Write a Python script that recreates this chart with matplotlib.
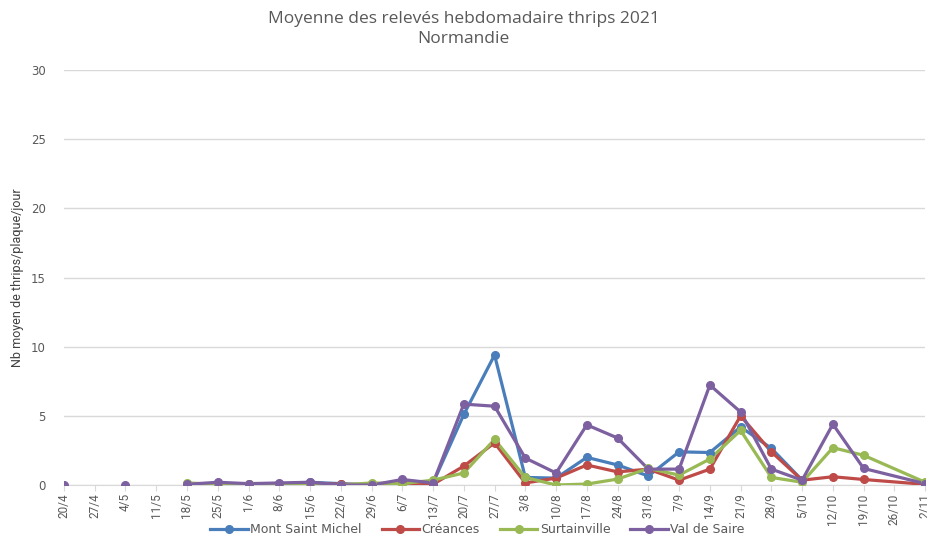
import numpy as np
import matplotlib
matplotlib.use("Agg")
import matplotlib.pyplot as plt
from matplotlib.lines import Line2D

categories = ["20/4", "27/4", "4/5", "11/5", "18/5", "25/5", "1/6", "8/6", "15/6", "22/6",
              "29/6", "6/7", "13/7", "20/7", "27/7", "3/8", "10/8", "17/8", "24/8", "31/8",
              "7/9", "14/9", "21/9", "28/9", "5/10", "12/10", "19/10", "26/10", "2/11"]

mont_saint_michel = [None, None, None, None, 0.05, 0.05, 0.0, 0.05, 0.2, 0.1,
                     0.0, 0.3, 0.15, 5.1, 9.4, 0.55, 0.5, 2.0, 1.45, 0.65,
                     2.4, 2.35, 4.2, 2.65, 0.35, None, None, None, None]
creances = [None, None, None, None, 0.05, 0.1, 0.05, 0.1, 0.15, 0.05,
            0.05, 0.15, 0.05, 1.37, 3.05, 0.15, 0.5, 1.45, 0.95, 1.15,
            0.35, 1.15, 5.0, 2.4, 0.35, 0.6, 0.4, None, 0.05]
surtainville = [None, None, None, None, 0.15, 0.05, 0.05, 0.05, 0.1, 0.0,
                0.15, 0.1, 0.35, 0.87, 3.3, 0.55, 0.0, 0.07, 0.43, 1.2,
                0.72, 1.88, 3.95, 0.55, 0.2, 2.7, 2.15, None, 0.2]
val_de_saire = [0.0, None, 0.0, None, 0.05, 0.2, 0.1, 0.15, 0.2, 0.0,
                0.0, 0.4, 0.15, 5.85, 5.7, 1.95, 0.87, 4.35, 3.4, 1.15,
                1.15, 7.23, 5.28, 1.15, 0.35, 4.4, 1.2, None, 0.1]

series = [
    ("Mont Saint Michel", mont_saint_michel, "#4A7EBB"),
    ("Créances", creances, "#BE4B48"),
    ("Surtainville", surtainville, "#98B954"),
    ("Val de Saire", val_de_saire, "#7D60A0"),
]

fig = plt.figure(figsize=(9.27, 5.36), dpi=100)
ax = fig.add_axes([0.069, 0.0951, 0.929, 0.774])

x = np.arange(len(categories))
connect_idx = categories.index("26/10")
for name, vals, col in series:
    y = np.array([np.nan if v is None else v for v in vals], dtype=float)
    # line: gap at 26/10 is bridged, other gaps break the line
    keep = [i for i in range(len(x)) if not (i == connect_idx and np.isnan(y[i]))]
    ax.plot(x[keep], y[keep], color=col, lw=2.3, solid_capstyle="round", zorder=3)
    ax.plot(x, y, linestyle="none", marker="o", ms=5.5, color=col, zorder=4)

ax.set_xlim(0, len(categories) - 1)
ax.set_ylim(0, 30)
ax.set_yticks(range(0, 31, 5))
ax.set_xticks(x)
ax.set_xticklabels(categories, rotation=90, fontsize=8.5, color="#595959",
                   family=["Liberation Sans Narrow", "Roboto", "DejaVu Sans"])
for t in ax.get_yticklabels():
    t.set_fontsize(8.5)
    t.set_color("#595959")
    t.set_family("DejaVu Sans")

ax.grid(axis="y", color="#D9D9D9", lw=1)
ax.set_axisbelow(True)
for s in ["top", "right", "left"]:
    ax.spines[s].set_visible(False)
ax.spines["bottom"].set_color("#D9D9D9")
ax.tick_params(axis="y", length=0, pad=13)
ax.tick_params(axis="x", length=4, color="#D9D9D9", pad=2)

ax.set_ylabel("Nb moyen de thrips/plaque/jour", fontsize=9, color="#404040",
              family=["Liberation Sans Narrow", "Roboto", "DejaVu Sans"])
ax.yaxis.set_label_coords(-0.046, 0.5)

fig.text(0.5, 0.965, "Moyenne des relevés hebdomadaire thrips 2021", ha="center", va="center",
         fontsize=12.5, color="#595959", family="Open Sans")
fig.text(0.5, 0.928, "Normandie", ha="center", va="center",
         fontsize=12.5, color="#595959", family="Open Sans")

handles = [Line2D([0], [0], color=c, lw=2.3, marker="o", ms=5.5) for _, _, c in series]
fig.legend(handles, [n for n, _, _ in series], loc="center", bbox_to_anchor=(0.515, 0.012),
           ncol=4, frameon=False, fontsize=9, handlelength=3.0, columnspacing=1.6,
           handletextpad=0.2, labelcolor="#595959")

fig.savefig("out.png", dpi=100)
